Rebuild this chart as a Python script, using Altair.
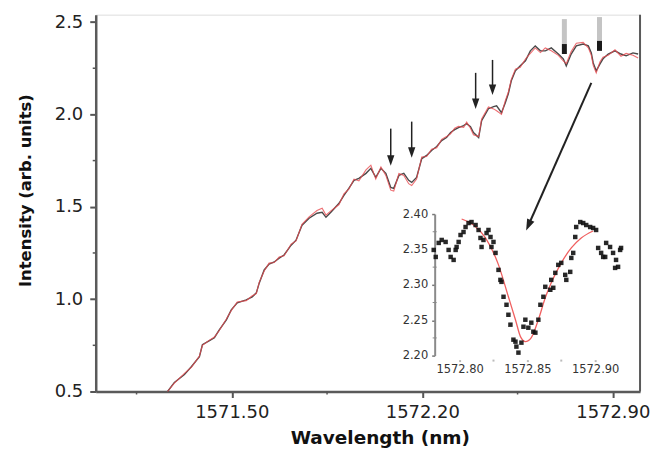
import altair as alt
import pandas as pd

# ---------------- main spectrum ----------------
wavelength = [1571.264, 1571.289, 1571.326, 1571.352, 1571.381, 1571.392, 1571.418, 1571.436, 1571.454, 1571.480,
              1571.498, 1571.520, 1571.553, 1571.575, 1571.590, 1571.601, 1571.619, 1571.637, 1571.656, 1571.674,
              1571.692, 1571.718, 1571.736, 1571.758, 1571.784, 1571.813, 1571.832, 1571.846, 1571.864, 1571.894,
              1571.912, 1571.930, 1571.949, 1571.967, 1571.993, 1572.011, 1572.029, 1572.048, 1572.066, 1572.084,
              1572.095, 1572.114, 1572.132, 1572.150, 1572.161, 1572.179, 1572.198, 1572.216, 1572.234, 1572.253,
              1572.271, 1572.289, 1572.304, 1572.319, 1572.333, 1572.352, 1572.363, 1572.377, 1572.388, 1572.407,
              1572.418, 1572.443, 1572.462, 1572.473, 1572.491, 1572.505, 1572.516, 1572.527, 1572.542, 1572.560,
              1572.579, 1572.597, 1572.615, 1572.634, 1572.652, 1572.674, 1572.700, 1572.718, 1572.729, 1572.747,
              1572.766, 1572.791, 1572.810, 1572.821, 1572.828, 1572.839, 1572.853, 1572.864, 1572.883, 1572.908,
              1572.930, 1572.949, 1572.974, 1572.993]
intensity_black = [0.500, 0.549, 0.592, 0.635, 0.689, 0.753, 0.775, 0.791, 0.834, 0.888,
                   0.942, 0.980, 0.996, 1.012, 1.034, 1.088, 1.158, 1.190, 1.201, 1.222,
                   1.239, 1.292, 1.319, 1.400, 1.438, 1.465, 1.470, 1.443, 1.470, 1.519,
                   1.562, 1.600, 1.643, 1.654, 1.681, 1.708, 1.659, 1.708, 1.681, 1.605,
                   1.600, 1.670, 1.681, 1.643, 1.632, 1.659, 1.761, 1.778, 1.805, 1.826,
                   1.858, 1.875, 1.902, 1.918, 1.929, 1.939, 1.950, 1.934, 1.902, 1.875,
                   1.966, 2.031, 2.042, 2.047, 2.009, 2.063, 2.112, 2.182, 2.236, 2.263,
                   2.290, 2.344, 2.371, 2.344, 2.344, 2.360, 2.327, 2.301, 2.263, 2.327,
                   2.371, 2.381, 2.371, 2.333, 2.279, 2.236, 2.274, 2.301, 2.327, 2.344,
                   2.327, 2.317, 2.333, 2.327]
intensity_red = [0.500, 0.545, 0.598, 0.632, 0.692, 0.750, 0.778, 0.795, 0.830, 0.892,
                 0.938, 0.985, 0.992, 1.018, 1.030, 1.092, 1.152, 1.195, 1.198, 1.228,
                 1.235, 1.298, 1.315, 1.405, 1.445, 1.480, 1.492, 1.455, 1.478, 1.512,
                 1.570, 1.595, 1.650, 1.640, 1.700, 1.725, 1.650, 1.715, 1.670, 1.590,
                 1.585, 1.680, 1.670, 1.625, 1.615, 1.650, 1.770, 1.772, 1.812, 1.820,
                 1.865, 1.880, 1.895, 1.925, 1.935, 1.930, 1.958, 1.925, 1.890, 1.880,
                 1.975, 2.040, 2.030, 2.020, 2.000, 2.075, 2.120, 2.190, 2.245, 2.255,
                 2.300, 2.330, 2.360, 2.335, 2.360, 2.345, 2.320, 2.290, 2.275, 2.340,
                 2.385, 2.390, 2.360, 2.320, 2.265, 2.225, 2.285, 2.310, 2.320, 2.350,
                 2.315, 2.330, 2.320, 2.305]

x_ticks = [1571.50, 1572.20, 1572.90]
x_minor = [1571.15, 1571.85, 1572.55]
y_ticks = [0.5, 1.0, 1.5, 2.0, 2.5]
y_minor = [0.75, 1.25, 1.75, 2.25]

# ---------------- arrows ----------------
arrow_x = [1572.084, 1572.161, 1572.396, 1572.458]
arrow_top = [1.923, 1.961, 2.225, 2.295]
arrow_head = [1.751, 1.794, 2.058, 2.133]

gray_arrow_x = [1572.722, 1572.851]
gray_arrow_top = [2.516, 2.527]
gray_arrow_mid = [2.381, 2.398]
gray_arrow_end = [2.327, 2.344]

diag_start = [1572.821, 2.171]
diag_head = [1572.590, 1.400]

# ---------------- inset ----------------
inset_wl = [1572.7809, 1572.7824, 1572.7846, 1572.7868, 1572.7897, 1572.7919, 1572.7934, 1572.7956, 1572.7971, 1572.7978,
            1572.7993, 1572.8007, 1572.8029, 1572.8044, 1572.8066, 1572.8088, 1572.8118, 1572.8140, 1572.8154, 1572.8162,
            1572.8176, 1572.8199, 1572.8213, 1572.8228, 1572.8235, 1572.8250, 1572.8265, 1572.8287, 1572.8301, 1572.8309,
            1572.8324, 1572.8346, 1572.8360, 1572.8375, 1572.8397, 1572.8412, 1572.8419, 1572.8434, 1572.8456, 1572.8471,
            1572.8485, 1572.8507, 1572.8529, 1572.8544, 1572.8559, 1572.8581, 1572.8596, 1572.8618, 1572.8632, 1572.8669,
            1572.8676, 1572.8691, 1572.8706, 1572.8728, 1572.8750, 1572.8779, 1572.8787, 1572.8816, 1572.8824, 1572.8838,
            1572.8853, 1572.8860, 1572.8890, 1572.8912, 1572.8934, 1572.8963, 1572.8985, 1572.9007, 1572.9022, 1572.9044,
            1572.9059, 1572.9074, 1572.9081, 1572.9110, 1572.9132, 1572.9147, 1572.9154, 1572.9169, 1572.9184, 1572.9191]
inset_int = [2.3493, 2.3394, 2.3592, 2.3634, 2.3606, 2.3493, 2.3394, 2.3352, 2.3493, 2.3535,
             2.3606, 2.3704, 2.3746, 2.3817, 2.3873, 2.3887, 2.3845, 2.3775, 2.3662, 2.3535,
             2.3634, 2.3732, 2.3775, 2.3676, 2.3535, 2.3606, 2.3451, 2.3211, 2.3070, 2.3042,
             2.2831, 2.2718, 2.2577, 2.2437, 2.2225, 2.2197, 2.2127, 2.2042, 2.2183, 2.2408,
             2.2507, 2.2394, 2.2465, 2.2338, 2.2324, 2.2507, 2.2718, 2.2831, 2.2972, 2.2930,
             2.3070, 2.2958, 2.3169, 2.3282, 2.3310, 2.3141, 2.3070, 2.3183, 2.3380, 2.3451,
             2.3676, 2.3817, 2.3887, 2.3873, 2.3845, 2.3817, 2.3803, 2.3775, 2.3521, 2.3451,
             2.3394, 2.3394, 2.3592, 2.3535, 2.3451, 2.3239, 2.3352, 2.3254, 2.3493, 2.3521]
fit_wl = [1572.8015, 1572.8103, 1572.8191, 1572.8287, 1572.8360, 1572.8412, 1572.8449, 1572.8485,
          1572.8529, 1572.8581, 1572.8632, 1572.8676, 1572.8750, 1572.8824, 1572.8897, 1572.8985]
fit_int = [2.3930, 2.3845, 2.3662, 2.3282, 2.2831, 2.2507, 2.2268, 2.2197,
           2.2254, 2.2507, 2.2817, 2.3028, 2.3310, 2.3521, 2.3662, 2.3761]
inset_x_ticks = [1572.80, 1572.85, 1572.90]
inset_x_minor = [1572.825, 1572.875]
inset_y_ticks = [2.20, 2.25, 2.30, 2.35, 2.40]
inset_y_minor = [2.225, 2.275, 2.325, 2.375]

W, H = 546, 378
FONT = "DejaVu Sans"

xs = alt.Scale(domain=[1571.0, 1573.0], nice=False, zero=False)
ys = alt.Scale(domain=[0.5, 2.54], nice=False, zero=False)

main_df = pd.DataFrame({"wl": wavelength, "black": intensity_black, "red": intensity_red})

black_line = alt.Chart(main_df).mark_line(color="#4a4a4a", strokeWidth=1.4).encode(
    x=alt.X("wl:Q", scale=xs, axis=alt.Axis(
        values=x_ticks, format=".2f", title="Wavelength (nm)", grid=False, labelFlush=False,
        domainColor="#5a5a5a", domainWidth=2.5, tickColor="#555", tickWidth=2, tickSize=6,
        labelFont=FONT, labelFontSize=18, labelColor="#222", labelPadding=6,
        titleFont=FONT, titleFontSize=18.5, titleFontWeight="bold", titleColor="#111",
        titleX=285, titleY=52, titleBaseline="alphabetic", titleAlign="center")),
    y=alt.Y("black:Q", scale=ys, axis=alt.Axis(
        values=y_ticks, format=".1f", title="Intensity (arb. units)", grid=False,
        domainColor="#5a5a5a", domainWidth=2.5, tickColor="#555", tickWidth=2, tickSize=6,
        labelFont=FONT, labelFontSize=18, labelColor="#222", labelPadding=7,
        titleFont=FONT, titleFontSize=16.5, titleFontWeight="bold", titleColor="#111",
        titleX=-65, titleY=176, titleBaseline="alphabetic", titleAlign="center", titleAngle=270)),
)
red_line = alt.Chart(main_df).mark_line(color="#e84a4f", strokeWidth=1.1, opacity=0.8).encode(
    x=alt.X("wl:Q", scale=xs), y=alt.Y("red:Q", scale=ys))

ymin = alt.Chart(pd.DataFrame({"v": y_minor})).mark_rule(color="#555", strokeWidth=1.5).encode(
    y=alt.Y("v:Q", scale=ys), x=alt.value(-3), x2=alt.value(0))
xmin = alt.Chart(pd.DataFrame({"v": x_minor})).mark_rule(color="#555", strokeWidth=1.5).encode(
    x=alt.X("v:Q", scale=xs), y=alt.value(H), y2=alt.value(H + 3))
right_border = alt.Chart(pd.DataFrame({"a": [0]})).mark_rule(color="#5a5a5a", strokeWidth=2).encode(
    x=alt.value(W), y=alt.value(0), y2=alt.value(H))

arrows_df = pd.DataFrame({"x": arrow_x, "top": arrow_top, "head": arrow_head})
arrow_shafts = alt.Chart(arrows_df).mark_rule(color="#222", strokeWidth=1.5).encode(
    x=alt.X("x:Q", scale=xs), y=alt.Y("top:Q", scale=ys), y2="head:Q")
HEAD = "M-0.7,-1L0.7,-1L0,1Z"
arrow_heads = alt.Chart(arrows_df).mark_point(shape=HEAD, size=110, filled=True, color="#222", opacity=1).encode(
    x=alt.X("x:Q", scale=xs), y=alt.Y("head:Q", scale=ys))

gray_df = pd.DataFrame({"x": gray_arrow_x, "top": gray_arrow_top, "mid": gray_arrow_mid, "end": gray_arrow_end})
gray_shafts = alt.Chart(gray_df).mark_rule(color="#c4c4c4", strokeWidth=5).encode(
    x=alt.X("x:Q", scale=xs), y=alt.Y("top:Q", scale=ys), y2="mid:Q")
gray_heads = alt.Chart(gray_df).mark_rule(color="#1a1a1a", strokeWidth=5).encode(
    x=alt.X("x:Q", scale=xs), y=alt.Y("mid:Q", scale=ys), y2="end:Q")

diag_df = pd.DataFrame({"x": [diag_start[0]], "y": [diag_start[1]], "x2": [diag_head[0]], "y2": [diag_head[1]]})
diag_shaft = alt.Chart(diag_df).mark_rule(color="#222", strokeWidth=2).encode(
    x=alt.X("x:Q", scale=xs), y=alt.Y("y:Q", scale=ys), x2="x2:Q", y2="y2:Q")
diag_headm = alt.Chart(diag_df).mark_point(shape=HEAD, size=130, filled=True, color="#222", opacity=1, angle=24).encode(
    x=alt.X("x2:Q", scale=xs), y=alt.Y("y2:Q", scale=ys))

main = alt.layer(black_line, red_line, ymin, xmin, right_border, arrow_shafts, arrow_heads,
                 gray_shafts, gray_heads, diag_shaft, diag_headm)

# ---------------- inset layer ----------------
ixs = alt.Scale(domain=[1572.80, 1572.90], range=[365, 501], nice=False, zero=False)
iys = alt.Scale(domain=[2.20, 2.40], range=[342, 200], nice=False, zero=False)

inset_df = pd.DataFrame({"wl": inset_wl, "I": inset_int})
fit_df = pd.DataFrame({"wl": fit_wl, "I": fit_int})

inset_pts = alt.Chart(inset_df).mark_square(size=20, color="#111", opacity=0.9).encode(
    x=alt.X("wl:Q", scale=ixs, axis=alt.Axis(
        orient="bottom", offset=-32, values=inset_x_ticks, format=".2f", title=None, grid=False,
        domain=False, tickColor="#bbb", tickSize=2, tickWidth=2, labelFlush=False, labelOverlap=False,
        labelFont=FONT, labelFontSize=11.5, labelColor="#333", labelPadding=2)),
    y=alt.Y("I:Q", scale=iys, axis=alt.Axis(
        orient="left", offset=-340, values=inset_y_ticks, format=".2f", title=None, grid=False,
        domainColor="#8a8a8a", domainWidth=2, tickColor="#777", tickSize=3, tickWidth=1.5,
        labelOverlap=False, labelFlush=False,
        labelFont=FONT, labelFontSize=11.5, labelColor="#333", labelPadding=4)),
)
fit_line = alt.Chart(fit_df).mark_line(color="#f06060", strokeWidth=1.3, interpolate="monotone").encode(
    x=alt.X("wl:Q", scale=ixs), y=alt.Y("I:Q", scale=iys))
iymin = alt.Chart(pd.DataFrame({"v": inset_y_minor})).mark_rule(color="#888", strokeWidth=1).encode(
    y=alt.Y("v:Q", scale=iys), x=alt.value(338), x2=alt.value(342))
ixmin = alt.Chart(pd.DataFrame({"v": inset_x_minor})).mark_rule(color="#bbb", strokeWidth=2).encode(
    x=alt.X("v:Q", scale=ixs), y=alt.value(346), y2=alt.value(348))

inset = alt.layer(fit_line, inset_pts, iymin, ixmin)

chart = alt.layer(main, inset).resolve_scale(x="independent", y="independent").properties(
    width=W, height=H,
    autosize=alt.AutoSizeParams(type="none"),
    padding={"left": 88, "top": 6, "right": 10, "bottom": 58},
).configure_view(stroke=None).configure(background="white")

chart.save("out.html", embed_options={"renderer": "svg", "actions": False})
